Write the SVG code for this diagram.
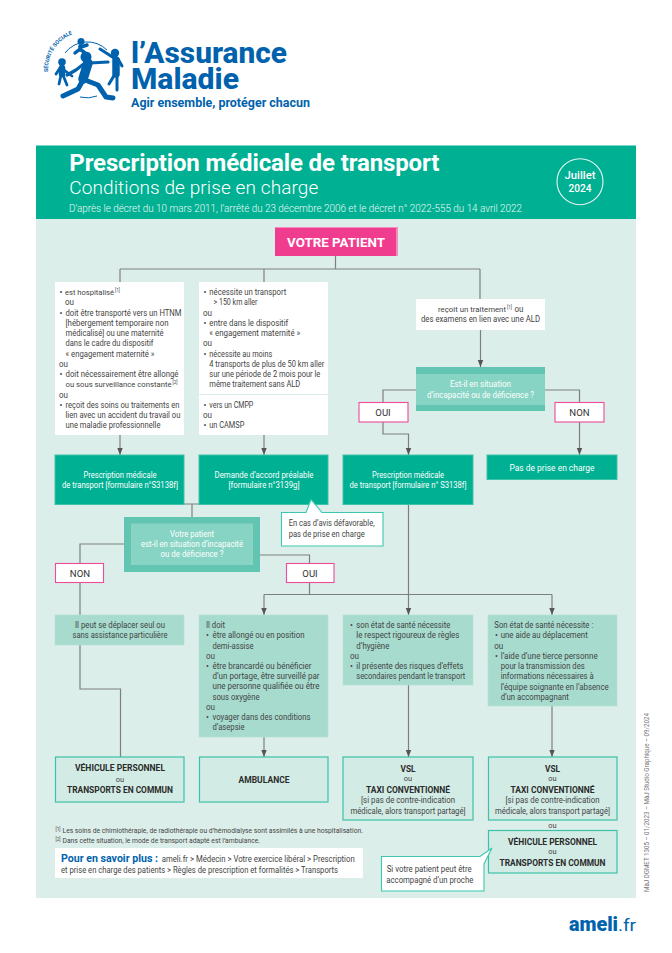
<svg xmlns="http://www.w3.org/2000/svg" width="672" height="953" viewBox="0 0 672 953">
<style>
text{font-family:Roboto,"Liberation Sans",sans-serif;font-size:8.6px;fill:#444}
.m{text-anchor:middle}
.w{fill:#fff}
.wd{fill:#eafaf6}
.b{font-weight:700;fill:#2b2b2b;font-size:9.2px}
.o{font-size:7.4px}
.lab{font-size:9.6px;fill:#333}
.sup{font-size:4.6px}
.s{font-size:7.4px}
.blue{fill:#0062ad;font-weight:700}
.wbox{fill:#fff}
.green{fill:#00b093;stroke:#3ec2a9;stroke-width:1}
.light{fill:#a6dbce;stroke:#b5e1d6;stroke-width:.6}
.out{fill:#d2ebe4;stroke:#3cc2a9;stroke-width:1.2}
.dec{fill:#62c5b1}
.deci{fill:#88d4c4}
.pink{fill:#fff;stroke:#ec4c98;stroke-width:1.1}
.call{fill:#fff;stroke:#3cc8b0;stroke-width:1.1}
.c{fill:none;stroke:#7d807f;stroke-width:1.2}
.a{marker-end:url(#arr)}
</style>
<defs>
<marker id="arr" markerUnits="userSpaceOnUse" markerWidth="7" markerHeight="7" refX="7" refY="3.5" orient="auto" viewBox="0 0 7 7"><path d="M0 0.8V6.2L7 3.5Z" fill="#555"/></marker>
</defs>
<rect width="672" height="953" fill="#fff"/>

<g id="logo">
<g fill="none" stroke="#0062ad">
<path d="M65 53A28 28 0 0 1 107 50" stroke-width="1"/>
<path d="M80 97A28 28 0 0 0 97 96" stroke-width="1"/>
<path d="M88 63L83 79" stroke-width="9.500" stroke-linecap="round"/>
<path d="M90 63L108 62M85 63L76 70L67 75" stroke-width="3.200" stroke-linecap="round" stroke-linejoin="round"/>
<path d="M85 80L98 85L106 97L113 98M83 80L78 89L63 96" stroke-width="5" stroke-linecap="round" stroke-linejoin="round"/>
<path d="M62 68V74" stroke-width="6.500" stroke-linecap="round"/>
<path d="M61 75L59 84M63 75L67 85M64 70L72 76M60 68L56 74" stroke-width="2.800" stroke-linecap="round"/>
<path d="M116 60V74" stroke-width="7.500" stroke-linecap="round"/>
<path d="M115 74L109 84M117 74V90M114 58L100 49M118 59L122 66" stroke-width="3" stroke-linecap="round"/>
<path d="M80 46L80 50M80 49L75 53M81 47L87 45M81 50L84 52" stroke-width="3.500" stroke-linecap="round"/>
</g>
<g fill="#0062ad">
<circle cx="86" cy="57" r="5.500"/><circle cx="62" cy="62" r="3.800"/><circle cx="115" cy="53" r="4.200"/><circle cx="81" cy="41.500" r="3.500"/>
</g>
<path id="arc" d="M48 72A38 38 0 0 1 90 32" fill="none"/>
<text style="font-size:5.400px;font-weight:700;fill:#0062ad"><textPath href="#arc">SÉCURITÉ SOCIALE</textPath></text>
<text x="131" y="62.700" textLength="156" lengthAdjust="spacingAndGlyphs" style="font-size:29px;font-weight:800;fill:#0062ad">l’Assurance</text>
<text x="131" y="89" textLength="108" lengthAdjust="spacingAndGlyphs" style="font-size:29px;font-weight:800;fill:#0062ad">Maladie</text>
<text x="131" y="106.700" textLength="179" lengthAdjust="spacingAndGlyphs" style="font-size:12.500px;font-weight:700;fill:#0062ad">Agir ensemble, protéger chacun</text>
</g>

<rect id="background" x="36" y="219" width="600" height="679" fill="#dceee9"/>
<g id="header">
<rect x="36" y="145.500" width="600" height="73.500" fill="#00b093"/>
<text class="w" x="69.300" y="170.700" textLength="370" lengthAdjust="spacing" style="font-size:24px;font-weight:700">Prescription médicale de transport</text>
<text class="w" x="69.300" y="194" textLength="249" lengthAdjust="spacing" style="font-size:19px;font-weight:300">Conditions de prise en charge</text>
<text class="wd" x="69" y="211.500" textLength="453" lengthAdjust="spacingAndGlyphs" style="font-size:10.800px;font-weight:300">D’après le décret du 10 mars 2011, l’arrêté du 23 décembre 2006 et le décret n° 2022-555 du 14 avril 2022</text>
<circle cx="580" cy="181.700" r="23" fill="none" stroke="#e6f5f1" stroke-width="1.100"/>
<text class="w m" x="580" y="178.500" textLength="31" lengthAdjust="spacingAndGlyphs" style="font-size:10px;font-weight:500">Juillet</text>
<text class="w m" x="580" y="192" textLength="23" lengthAdjust="spacingAndGlyphs" style="font-size:10px;font-weight:500">2024</text>
</g>

<g id="connectors">
<path class="c" d="M335.500 256V269M120 269H480"/>
<path class="c" d="M120 269V282"/>
<path class="c" d="M264 269V282M480 269V299"/>
<path class="c a" d="M120 435V455"/>
<path class="c a" d="M264 435V455"/>
<path class="c a" d="M480.500 330V367"/>
<path class="c a" d="M416 390H383V434H408.500V455"/>
<path class="c a" d="M545 390H579.500V455"/>
<path class="c" d="M184 504H199M192 504V517"/>
<path class="c" d="M124 544H80V615M80 645V689H120.500V757"/>
<path class="c" d="M260 555H309.500V595"/>
<path class="c" d="M264 594.500H552"/>
<path class="c a" d="M264 594.500V615"/>
<path class="c a" d="M408.500 504V615"/>
<path class="c a" d="M552 594.500V615"/>
<path class="c a" d="M264 737V757"/>
<path class="c a" d="M408.500 685V757"/>
<path class="c a" d="M552 706V757"/>
</g>

<g id="votre-patient">
<rect x="275" y="227" width="123" height="29" fill="#f38cbb"/>
<rect x="275" y="228" width="121" height="28" fill="#f03c8f"/>
<text class="w m" x="336" y="247" textLength="98" lengthAdjust="spacingAndGlyphs" style="font-size:13px;font-weight:700">VOTRE PATIENT</text>
</g>

<g id="criteres-1">
<rect class="wbox" x="55" y="282" width="129" height="153"/>
<text x="59.500" y="295">•</text><text class="s" x="65" y="295" textLength="49" lengthAdjust="spacingAndGlyphs">est hospitalisé</text><text class="sup" x="115" y="292">[1]</text>
<text x="65" y="305.300" textLength="9" lengthAdjust="spacingAndGlyphs">ou</text>
<text x="59.500" y="315.500">•</text><text x="65.500" y="315.500" textLength="116" lengthAdjust="spacingAndGlyphs">doit être transporté vers un HTNM</text>
<text x="65.500" y="325.800" textLength="103" lengthAdjust="spacingAndGlyphs">[hébergement temporaire non</text>
<text x="65.500" y="336" textLength="98" lengthAdjust="spacingAndGlyphs">médicalisé] ou une maternité</text>
<text x="65.500" y="346.300" textLength="88" lengthAdjust="spacingAndGlyphs">dans le cadre du dispositif</text>
<text x="65.500" y="356.500" textLength="89" lengthAdjust="spacingAndGlyphs">« engagement maternité »</text>
<text x="59" y="366.800" textLength="9" lengthAdjust="spacingAndGlyphs">ou</text>
<text x="59.500" y="377">•</text><text x="65.500" y="377" textLength="113" lengthAdjust="spacingAndGlyphs">doit nécessairement être allongé</text>
<text class="s" x="65.500" y="387.300" textLength="106" lengthAdjust="spacingAndGlyphs">ou sous surveillance constante</text><text class="sup" x="172.500" y="384">[2]</text>
<text x="59" y="397.500" textLength="9" lengthAdjust="spacingAndGlyphs">ou</text>
<text x="59.500" y="407.800">•</text><text x="65.500" y="407.800" textLength="114" lengthAdjust="spacingAndGlyphs">reçoit des soins ou traitements en</text>
<text x="65.500" y="418" textLength="115" lengthAdjust="spacingAndGlyphs">lien avec un accident du travail ou</text>
<text x="65.500" y="428.300" textLength="95" lengthAdjust="spacingAndGlyphs">une maladie professionnelle</text>
</g>

<g id="criteres-2">
<rect class="wbox" x="199" y="282" width="129" height="153"/>
<path d="M199 394.500H328" stroke="#dceee9" stroke-width="1"/>
<text x="203.500" y="295">•</text><text x="209.300" y="295" textLength="77" lengthAdjust="spacingAndGlyphs">nécessite un transport</text>
<text x="213.500" y="305.300" textLength="44" lengthAdjust="spacingAndGlyphs">&gt; 150 km aller</text>
<text x="203" y="315.500" textLength="9" lengthAdjust="spacingAndGlyphs">ou</text>
<text x="203.500" y="325.800">•</text><text x="209.300" y="325.800" textLength="79" lengthAdjust="spacingAndGlyphs">entre dans le dispositif</text>
<text x="209.300" y="336" textLength="91" lengthAdjust="spacingAndGlyphs">« engagement maternité »</text>
<text x="203" y="346.300" textLength="9" lengthAdjust="spacingAndGlyphs">ou</text>
<text x="203.500" y="356.500">•</text><text x="209.300" y="356.500" textLength="63" lengthAdjust="spacingAndGlyphs">nécessite au moins</text>
<text x="209.300" y="366.800" textLength="115" lengthAdjust="spacingAndGlyphs">4 transports de plus de 50 km aller</text>
<text x="209.300" y="377" textLength="111" lengthAdjust="spacingAndGlyphs">sur une période de 2 mois pour le</text>
<text x="209.300" y="387.300" textLength="91" lengthAdjust="spacingAndGlyphs">même traitement sans ALD</text>
<text x="203.500" y="407.800">•</text><text x="209.300" y="407.800" textLength="44" lengthAdjust="spacingAndGlyphs">vers un CMPP</text>
<text x="203" y="418" textLength="9" lengthAdjust="spacingAndGlyphs">ou</text>
<text x="203.500" y="428.300">•</text><text x="209.300" y="428.300" textLength="35" lengthAdjust="spacingAndGlyphs">un CAMSP</text>
</g>

<g id="criteres-3">
<rect class="wbox" x="416" y="299" width="129" height="31"/>
<text class="s" x="438" y="311.700" textLength="68" lengthAdjust="spacingAndGlyphs">reçoit un traitement</text><text class="sup" x="507" y="308.500">[1]</text><text x="514.500" y="311.700" textLength="9" lengthAdjust="spacingAndGlyphs">ou</text>
<text class="m" x="480.500" y="322" textLength="119" lengthAdjust="spacingAndGlyphs">des examens en lien avec une ALD</text>
</g>

<g id="decision-1">
<rect class="dec" x="416" y="367" width="129" height="44"/>
<rect class="deci" x="416" y="374" width="129" height="31"/>
<text class="w m" x="480.500" y="387" textLength="61" lengthAdjust="spacingAndGlyphs">Est-il en situation</text>
<text class="w m" x="480.500" y="397.500" textLength="107" lengthAdjust="spacingAndGlyphs">d’incapacité ou de déficience ?</text>
</g>
<g id="oui-1"><rect class="pink" x="359" y="402.500" width="49" height="19.500"/><text class="lab m" x="383" y="415.700">OUI</text></g>
<g id="non-1"><rect class="pink" x="555" y="402.500" width="49" height="19.500"/><text class="lab m" x="579.500" y="415.700">NON</text></g>

<g id="prescription-1">
<rect class="green" x="55" y="455" width="129" height="49.500"/>
<text class="w m" x="120" y="478" textLength="73" lengthAdjust="spacingAndGlyphs">Prescription médicale</text>
<text class="w m" x="120" y="487.900" textLength="116" lengthAdjust="spacingAndGlyphs">de transport [formulaire n°S3138f]</text>
</g>
<g id="demande-accord">
<rect class="green" x="199" y="455" width="129" height="49.500"/>
<text class="w m" x="264" y="478" textLength="99" lengthAdjust="spacingAndGlyphs">Demande d’accord préalable</text>
<text class="w m" x="264" y="487.900" textLength="71" lengthAdjust="spacingAndGlyphs">[formulaire n°3139g]</text>
</g>
<g id="prescription-2">
<rect class="green" x="343" y="455" width="130" height="49.500"/>
<text class="w m" x="408" y="478" textLength="72" lengthAdjust="spacingAndGlyphs">Prescription médicale</text>
<text class="w m" x="408" y="487.900" textLength="117" lengthAdjust="spacingAndGlyphs">de transport [formulaire n° S3138f]</text>
</g>
<g id="pas-de-prise">
<rect class="green" x="487" y="455" width="130" height="24.500"/>
<text class="w m" x="552" y="470.700" textLength="85" lengthAdjust="spacingAndGlyphs">Pas de prise en charge</text>
</g>

<g id="avis-defavorable">
<path class="call" d="M281.500 512.500H306L311 499.500L322 512.500H383V546H281.500Z"/>
<text x="288.700" y="526" textLength="86" lengthAdjust="spacingAndGlyphs">En cas d’avis défavorable,</text>
<text x="288.700" y="537" textLength="76" lengthAdjust="spacingAndGlyphs">pas de prise en charge</text>
</g>

<g id="decision-2">
<rect class="dec" x="124" y="517" width="136" height="55"/>
<rect class="deci" x="131" y="523.500" width="122" height="41.500"/>
<text class="w m" x="192" y="536.700" textLength="44" lengthAdjust="spacingAndGlyphs">Votre patient</text>
<text class="w m" x="192" y="547" textLength="102" lengthAdjust="spacingAndGlyphs">est-il en situation d’incapacité</text>
<text class="w m" x="192" y="557" textLength="63" lengthAdjust="spacingAndGlyphs">ou de déficience ?</text>
</g>
<g id="non-2"><rect class="pink" x="55.500" y="563.500" width="48" height="19"/><text class="lab m" x="80" y="576.500">NON</text></g>
<g id="oui-2"><rect class="pink" x="286.500" y="563.500" width="47.500" height="19"/><text class="lab m" x="310" y="576.500">OUI</text></g>

<g id="autonome">
<rect class="light" x="55" y="615" width="129" height="30"/>
<text class="m" x="120" y="628" textLength="90" lengthAdjust="spacingAndGlyphs">Il peut se déplacer seul ou</text>
<text class="m" x="120" y="638.300" textLength="95" lengthAdjust="spacingAndGlyphs">sans assistance particulière</text>
</g>

<g id="cas-ambulance">
<rect class="light" x="199" y="615" width="129" height="122"/>
<text x="206" y="628" textLength="19" lengthAdjust="spacingAndGlyphs">Il doit</text>
<text x="206" y="638.300">•</text><text x="212.500" y="638.300" textLength="92" lengthAdjust="spacingAndGlyphs">être allongé ou en position</text>
<text x="212.500" y="648.500" textLength="41" lengthAdjust="spacingAndGlyphs">demi-assise</text>
<text x="206" y="658.800" textLength="9" lengthAdjust="spacingAndGlyphs">ou</text>
<text x="206" y="668.800">•</text><text x="212.500" y="668.800" textLength="99" lengthAdjust="spacingAndGlyphs">être brancardé ou bénéficier</text>
<text x="212.500" y="679" textLength="107" lengthAdjust="spacingAndGlyphs">d’un portage, être surveillé par</text>
<text x="212.500" y="689.300" textLength="107" lengthAdjust="spacingAndGlyphs">une personne qualifiée ou être</text>
<text x="212.500" y="699.500" textLength="47" lengthAdjust="spacingAndGlyphs">sous oxygène</text>
<text x="206" y="709.800" textLength="9" lengthAdjust="spacingAndGlyphs">ou</text>
<text x="206" y="720">•</text><text x="212.500" y="720" textLength="98" lengthAdjust="spacingAndGlyphs">voyager dans des conditions</text>
<text x="212.500" y="730.300" textLength="32" lengthAdjust="spacingAndGlyphs">d’asepsie</text>
</g>

<g id="cas-vsl-1">
<rect class="light" x="343" y="615" width="130" height="70"/>
<text x="350" y="628">•</text><text x="356.300" y="628" textLength="94" lengthAdjust="spacingAndGlyphs">son état de santé nécessite</text>
<text x="356.300" y="638.300" textLength="103" lengthAdjust="spacingAndGlyphs">le respect rigoureux de règles</text>
<text x="356.300" y="648.500" textLength="33" lengthAdjust="spacingAndGlyphs">d’hygiène</text>
<text x="350" y="658.800" textLength="9" lengthAdjust="spacingAndGlyphs">ou</text>
<text x="350" y="669">•</text><text x="356.300" y="669" textLength="107" lengthAdjust="spacingAndGlyphs">il présente des risques d’effets</text>
<text x="356.300" y="679.300" textLength="109" lengthAdjust="spacingAndGlyphs">secondaires pendant le transport</text>
</g>

<g id="cas-vsl-2">
<rect class="light" x="488" y="615" width="129" height="91"/>
<text x="494.300" y="628" textLength="99" lengthAdjust="spacingAndGlyphs">Son état de santé nécessite :</text>
<text x="495" y="638.300">•</text><text x="500.700" y="638.300" textLength="87" lengthAdjust="spacingAndGlyphs">une aide au déplacement</text>
<text x="494.300" y="648.500" textLength="9" lengthAdjust="spacingAndGlyphs">ou</text>
<text x="495" y="658.800">•</text><text x="500.700" y="658.800" textLength="97" lengthAdjust="spacingAndGlyphs">l’aide d’une tierce personne</text>
<text x="500.700" y="669" textLength="84" lengthAdjust="spacingAndGlyphs">pour la transmission des</text>
<text x="500.700" y="679.300" textLength="93" lengthAdjust="spacingAndGlyphs">informations nécessaires à</text>
<text x="500.700" y="689.500" textLength="108" lengthAdjust="spacingAndGlyphs">l’équipe soignante en l’absence</text>
<text x="500.700" y="699.800" textLength="68" lengthAdjust="spacingAndGlyphs">d’un accompagnant</text>
</g>

<g id="vehicule-1">
<rect class="out" x="55.500" y="757" width="128.500" height="45"/>
<text class="b m" x="120" y="771.300" textLength="90" lengthAdjust="spacingAndGlyphs">VÉHICULE PERSONNEL</text>
<text class="o m" x="120" y="782">ou</text>
<text class="b m" x="120" y="793" textLength="106" lengthAdjust="spacingAndGlyphs">TRANSPORTS EN COMMUN</text>
</g>
<g id="ambulance">
<rect class="out" x="199.500" y="757" width="128.500" height="45"/>
<text class="b m" x="264" y="782.500" textLength="51" lengthAdjust="spacingAndGlyphs">AMBULANCE</text>
</g>
<g id="vsl-1">
<rect class="out" x="343" y="757" width="130" height="63"/>
<text class="b m" x="408" y="771.700" textLength="15" lengthAdjust="spacingAndGlyphs">VSL</text>
<text class="o m" x="408" y="781.300">ou</text>
<text class="b m" x="408" y="792.700" textLength="84" lengthAdjust="spacingAndGlyphs">TAXI CONVENTIONNÉ</text>
<text class="m" x="408" y="803.300" textLength="94" lengthAdjust="spacingAndGlyphs">[si pas de contre-indication</text>
<text class="m" x="408" y="814" textLength="115" lengthAdjust="spacingAndGlyphs">médicale, alors transport partagé]</text>
</g>
<g id="vsl-2">
<rect class="out" x="488.500" y="757" width="128.500" height="63"/>
<text class="b m" x="552.500" y="771.700" textLength="15" lengthAdjust="spacingAndGlyphs">VSL</text>
<text class="o m" x="552.500" y="781.300">ou</text>
<text class="b m" x="552.500" y="792.700" textLength="84" lengthAdjust="spacingAndGlyphs">TAXI CONVENTIONNÉ</text>
<text class="m" x="552.500" y="803.300" textLength="94" lengthAdjust="spacingAndGlyphs">[si pas de contre-indication</text>
<text class="m" x="552.500" y="814" textLength="115" lengthAdjust="spacingAndGlyphs">médicale, alors transport partagé]</text>
</g>
<text class="o m" x="552.500" y="827.800">ou</text>
<g id="vehicule-2">
<rect class="out" x="488.500" y="830.500" width="128.500" height="42.500"/>
<text class="b m" x="552.500" y="844.700" textLength="89" lengthAdjust="spacingAndGlyphs">VÉHICULE PERSONNEL</text>
<text class="o m" x="552.500" y="854.300">ou</text>
<text class="b m" x="552.500" y="866" textLength="106" lengthAdjust="spacingAndGlyphs">TRANSPORTS EN COMMUN</text>
</g>
<g id="accompagne">
<path class="call" d="M381.500 856.500H480L492 848L484 864V891H381.500Z"/>
<text x="386.700" y="871.700" textLength="85" lengthAdjust="spacingAndGlyphs">Si votre patient peut être</text>
<text x="386.300" y="882.700" textLength="87" lengthAdjust="spacingAndGlyphs">accompagné d’un proche</text>
</g>

<g id="notes">
<text class="sup" x="55.500" y="830.500">[1]</text><text x="62.500" y="832.700" textLength="300.500" lengthAdjust="spacingAndGlyphs" style="font-size:7.600px">Les soins de chimiothérapie, de radiothérapie ou d’hémodialyse sont assimilés à une hospitalisation.</text>
<text class="sup" x="55.500" y="840.800">[2]</text><text x="62.500" y="843" textLength="197.500" lengthAdjust="spacingAndGlyphs" style="font-size:7.600px">Dans cette situation, le mode de transport adapté est l’ambulance.</text>
</g>
<g id="savoir-plus">
<rect class="wbox" x="55" y="848" width="308" height="30"/>
<text class="blue" x="61" y="861.700" textLength="97" lengthAdjust="spacingAndGlyphs" style="font-size:11px">Pour en savoir plus :</text>
<text x="161.700" y="861.700" textLength="193" lengthAdjust="spacingAndGlyphs" style="font-size:9px">ameli.fr &gt; Médecin &gt; Votre exercice libéral &gt; Prescription</text>
<text x="61" y="873.300" textLength="277" lengthAdjust="spacingAndGlyphs" style="font-size:9px">et prise en charge des patients &gt; Règles de prescription et formalités &gt; Transports</text>
</g>

<text id="credit" transform="translate(648.500 892) rotate(-90)" textLength="179" lengthAdjust="spacingAndGlyphs" style="font-size:6.500px;fill:#777">MàJ DGMET 1305 – 01/2023 – MàJ Studio Graphique – 09/2024</text>

<g id="ameli">
<text x="569" y="931" textLength="49" lengthAdjust="spacingAndGlyphs" style="font-size:21px;font-weight:900;fill:#0062ad">ameli</text>
<text x="618" y="931" textLength="18" lengthAdjust="spacingAndGlyphs" style="font-size:16px;fill:#0062ad">.fr</text>
</g>
</svg>
